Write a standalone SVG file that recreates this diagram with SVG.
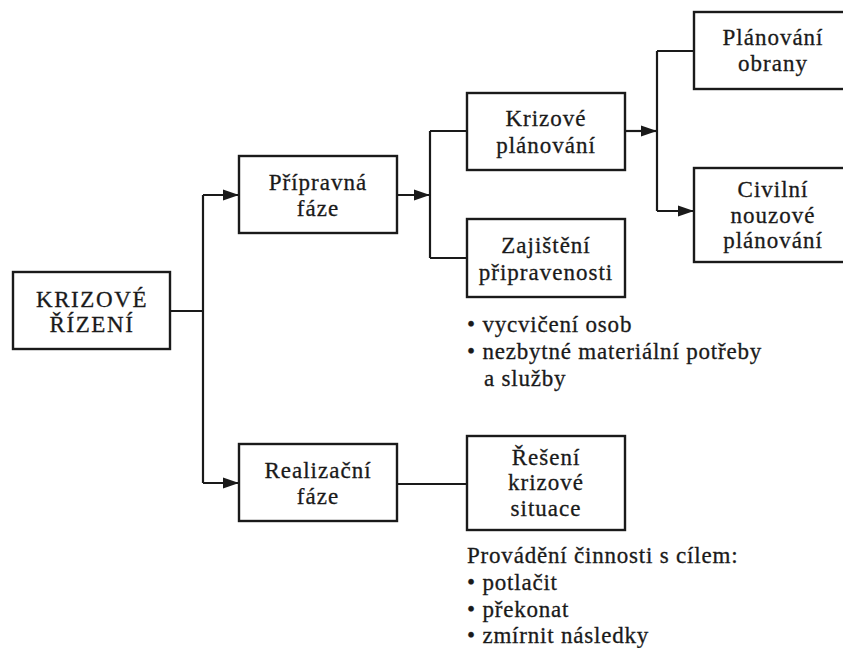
<svg xmlns="http://www.w3.org/2000/svg" width="843" height="648" viewBox="0 0 843 648">
<style>
  .box { fill: #ffffff; stroke: #1a1a1a; stroke-width: 2.4; }
  .lbl { font-family: "Liberation Serif", "DejaVu Serif", serif; font-size: 23px; letter-spacing: 1px; fill: #1a1a1a; stroke: #1a1a1a; stroke-width: 0.3; text-anchor: middle; }
  .caps { letter-spacing: 1.6px; }
  .note { font-family: "Liberation Serif", "DejaVu Serif", serif; font-size: 23px; letter-spacing: 0.8px; fill: #1a1a1a; stroke: #1a1a1a; stroke-width: 0.3; }
  .conn { fill: none; stroke: #1a1a1a; stroke-width: 2.2; }
</style>
<defs>
  <marker id="arr" markerUnits="userSpaceOnUse" markerWidth="17" markerHeight="12" refX="16" refY="6" orient="auto">
    <path d="M0,0.5 L16,6 L0,11.5 z" fill="#1a1a1a"/>
  </marker>
</defs>
<rect width="843" height="648" fill="#ffffff"/>

<g id="connectors">
  <path class="conn" d="M170,311 H203"/>
  <path class="conn" d="M203,195 V483"/>
  <path class="conn" d="M203,195 H239" marker-end="url(#arr)"/>
  <path class="conn" d="M203,483 H239" marker-end="url(#arr)"/>
  <path class="conn" d="M397,195 H430" marker-end="url(#arr)"/>
  <path class="conn" d="M430,131 V258"/>
  <path class="conn" d="M430,131 H467"/>
  <path class="conn" d="M430,258 H467"/>
  <path class="conn" d="M625,131 H657" marker-end="url(#arr)"/>
  <path class="conn" d="M657,51 V211"/>
  <path class="conn" d="M657,51 H694"/>
  <path class="conn" d="M657,211 H694" marker-end="url(#arr)"/>
  <path class="conn" d="M397,484 H467"/>
</g>

<g id="krizove-rizeni">
  <rect class="box" x="13" y="272" width="157" height="77"/>
  <text class="lbl caps" x="92" y="307">KRIZOVÉ</text>
  <text class="lbl caps" x="92" y="332">ŘÍZENÍ</text>
</g>

<g id="pripravna-faze">
  <rect class="box" x="239" y="156" width="158" height="77"/>
  <text class="lbl" x="318" y="190">Přípravná</text>
  <text class="lbl" x="318" y="216">fáze</text>
</g>

<g id="krizove-planovani">
  <rect class="box" x="467" y="93" width="158" height="77"/>
  <text class="lbl" x="546" y="126">Krizové</text>
  <text class="lbl" x="546" y="153">plánování</text>
</g>

<g id="zajisteni-pripravenosti">
  <rect class="box" x="467" y="219" width="158" height="78"/>
  <text class="lbl" x="546" y="253">Zajištění</text>
  <text class="lbl" x="546" y="280">připravenosti</text>
</g>

<g id="zajisteni-notes">
  <text class="note" x="467" y="332">• vycvičení osob</text>
  <text class="note" x="467" y="359">• nezbytné materiální potřeby</text>
  <text class="note" x="484" y="386">a služby</text>
</g>

<g id="planovani-obrany">
  <rect class="box" x="694" y="12" width="158" height="77"/>
  <text class="lbl" x="773" y="45">Plánování</text>
  <text class="lbl" x="773" y="71">obrany</text>
</g>

<g id="civilni-nouzove-planovani">
  <rect class="box" x="694" y="168" width="158" height="94"/>
  <text class="lbl" x="773" y="197">Civilní</text>
  <text class="lbl" x="773" y="223">nouzové</text>
  <text class="lbl" x="773" y="248">plánování</text>
</g>

<g id="realizacni-faze">
  <rect class="box" x="239" y="444" width="158" height="77"/>
  <text class="lbl" x="318" y="478">Realizační</text>
  <text class="lbl" x="318" y="504">fáze</text>
</g>

<g id="reseni-krizove-situace">
  <rect class="box" x="467" y="436" width="158" height="94"/>
  <text class="lbl" x="546" y="465">Řešení</text>
  <text class="lbl" x="546" y="490">krizové</text>
  <text class="lbl" x="546" y="516">situace</text>
</g>

<g id="reseni-notes">
  <text class="note" x="467" y="563">Provádění činnosti s cílem:</text>
  <text class="note" x="467" y="590">• potlačit</text>
  <text class="note" x="467" y="617">• překonat</text>
  <text class="note" x="467" y="643">• zmírnit následky</text>
</g>
</svg>
